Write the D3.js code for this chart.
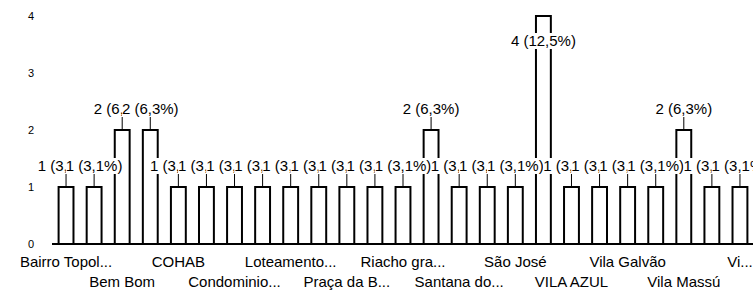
<!DOCTYPE html>
<html>
<head>
<meta charset="utf-8">
<script src="https://cdn.jsdelivr.net/npm/d3@7"></script>
<style>
  body { margin: 0; background: #fff; }
  svg { display: block; font-family: "Liberation Sans", Arial, sans-serif; }
</style>
</head>
<body>
<div id="chart"></div>
<script>
// Categories (hidden ones between the shown labels are guesses)
const categories = [
  "Bairro Topol...", "Bananeiras", "Bem Bom", "Centro", "COHAB", "Conceição",
  "Condominio...", "Jardim Brasil", "Loteamento...", "Nova Esperança", "Praça da B...",
  "Primavera", "Riacho gra...", "Rodoviária", "Santana do...", "Santo Antônio",
  "São José", "São Pedro", "VILA AZUL", "Vila Esperança", "Vila Galvão",
  "Vila Jardim", "Vila Massú", "Vila Nova", "Vi..."
];
const counts = [1, 1, 2, 2, 1, 1, 1, 1, 1, 1, 1, 1, 1, 2, 1, 1, 1, 4, 1, 1, 1, 1, 2, 1, 1];
const yTicks = [0, 1, 2, 3, 4];

const width = 753, height = 292;
const total = d3.sum(counts);

const svg = d3.select("#chart")
  .append("svg")
    .attr("width", width)
    .attr("height", height);

// Scales
const x = d3.scaleBand()
  .domain(categories)
  .range([52, 754])
  .paddingInner(0.47)
  .paddingOuter(0.235);

const y = d3.scaleLinear()
  .domain([0, 4])
  .range([244, 16]);

// Y tick labels (no axis line)
svg.append("g")
  .selectAll("text")
  .data(yTicks)
  .join("text")
    .attr("x", 34)
    .attr("y", d => y(d))
    .attr("dy", "0.35em")
    .attr("text-anchor", "end")
    .style("font-size", "11px")
    .text(d => d);

// Bars: white fill, black outline
svg.append("g")
  .selectAll("rect")
  .data(counts)
  .join("rect")
    .attr("x", (d, i) => x(categories[i]))
    .attr("y", d => y(d))
    .attr("width", x.bandwidth())
    .attr("height", d => y(0) - y(d))
    .attr("fill", "#fff")
    .attr("stroke", "#000")
    .attr("stroke-width", 2);

// X axis line
svg.append("line")
  .attr("x1", 52).attr("x2", 753)
  .attr("y1", y(0)).attr("y2", y(0))
  .attr("stroke", "#000")
  .attr("stroke-width", 2);

// Value labels with leader lines, drawn in order so each covers the one before
const fmt = v => (v / total * 100).toFixed(1).replace(".", ",");
const labels = svg.append("g");
counts.forEach((v, i) => {
  const cx = x(categories[i]) + x.bandwidth() / 2;
  const top = y(v);
  const inside = top - 16 < 20;
  const ty = inside ? top + 30 : top - 16;
  const g = labels.append("g");
  if (!inside) {
    g.append("line")
      .attr("x1", cx).attr("x2", cx)
      .attr("y1", top - 13).attr("y2", top)
      .attr("stroke", "#000")
      .attr("stroke-width", 1);
  }
  const bg = g.append("rect").attr("fill", "#fff");
  const t = g.append("text")
    .attr("x", cx)
    .attr("y", ty)
    .attr("text-anchor", "middle")
    .style("font-size", "15px")
    .text(`${v} (${fmt(v)}%)`);
  const b = t.node().getBBox();
  bg.attr("x", b.x).attr("y", b.y + 1).attr("width", b.width).attr("height", b.height - 1);
});

// Category labels: every other one, alternating two rows
svg.append("g")
  .selectAll("text")
  .data(categories.filter((c, i) => i % 2 === 0))
  .join("text")
    .attr("x", d => x(d) + x.bandwidth() / 2)
    .attr("y", (d, i) => i % 2 === 0 ? 267 : 287)
    .attr("text-anchor", "middle")
    .style("font-size", "15px")
    .text(d => d);
</script>
</body>
</html>
